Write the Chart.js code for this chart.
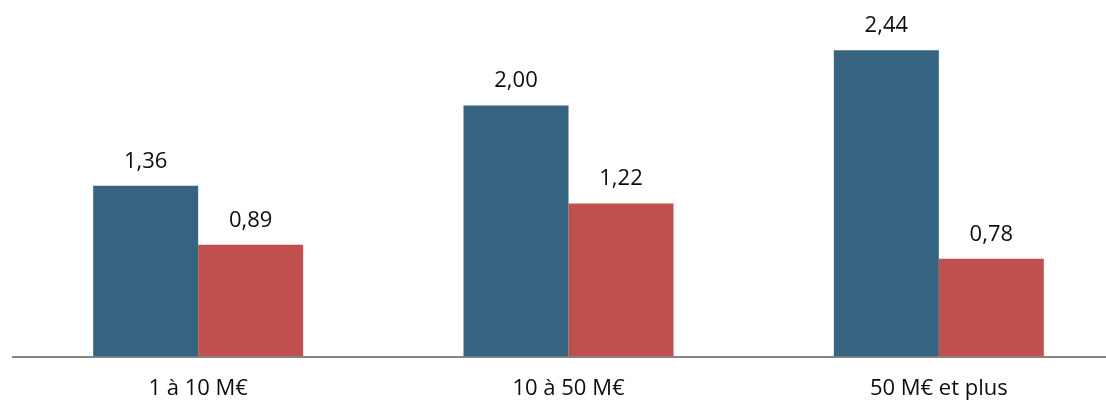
<!DOCTYPE html>
<html lang="fr">
<head>
<meta charset="utf-8">
<title>Graphique</title>
<script src="https://cdn.jsdelivr.net/npm/chart.js@4/dist/chart.umd.min.js"></script>
<style>
  html, body { margin: 0; padding: 0; background: #ffffff; overflow: hidden; }
  #wrap { position: relative; width: 1124px; height: 421px; }
</style>
</head>
<body>
<div id="wrap"><canvas id="chart"></canvas></div>
<script>
// Catégories et valeurs
const categories = ["1 à 10 M€", "10 à 50 M€", "50 M€ et plus"];
const seriesA = [1.36, 2.00, 2.44];
const seriesB = [0.89, 1.22, 0.78];

const BLUE = "#36637f";
const RED = "#c0504d";
const FONT = "'Open Sans', Lato, sans-serif";

const fmt = v => v.toLocaleString("fr-FR", { minimumFractionDigits: 2, maximumFractionDigits: 2 });

// Étiquettes de valeur au-dessus des barres
const valueLabels = {
  id: "valueLabels",
  afterDatasetsDraw(chart) {
    const ctx = chart.ctx;
    ctx.save();
    ctx.font = "22px " + FONT;
    ctx.fillStyle = "#0d0d0d";
    ctx.textAlign = "center";
    ctx.textBaseline = "alphabetic";
    chart.data.datasets.forEach((ds, i) => {
      chart.getDatasetMeta(i).data.forEach((bar, j) => {
        ctx.fillText(fmt(ds.data[j]), bar.x, bar.y - 18);
      });
    });
    ctx.restore();
  }
};

new Chart(document.getElementById("chart"), {
  type: "bar",
  data: {
    labels: categories,
    datasets: [
      { data: seriesA, backgroundColor: BLUE, categoryPercentage: 0.567, barPercentage: 1.0 },
      { data: seriesB, backgroundColor: RED, categoryPercentage: 0.567, barPercentage: 1.0 }
    ]
  },
  options: {
    responsive: true,
    maintainAspectRatio: false,
    animation: false,
    layout: { padding: { left: 13, right: 0, top: 0, bottom: 0 } },
    plugins: { legend: { display: false }, tooltip: { enabled: false } },
    scales: {
      x: {
        grid: { display: false, drawTicks: false },
        border: { display: true, color: "#868686", width: 2 },
        ticks: { color: "#0d0d0d", font: { family: FONT, size: 22 }, padding: 19 }
      },
      y: {
        display: false,
        min: 0,
        max: 2.84
      }
    }
  },
  plugins: [valueLabels]
});
</script>
</body>
</html>
